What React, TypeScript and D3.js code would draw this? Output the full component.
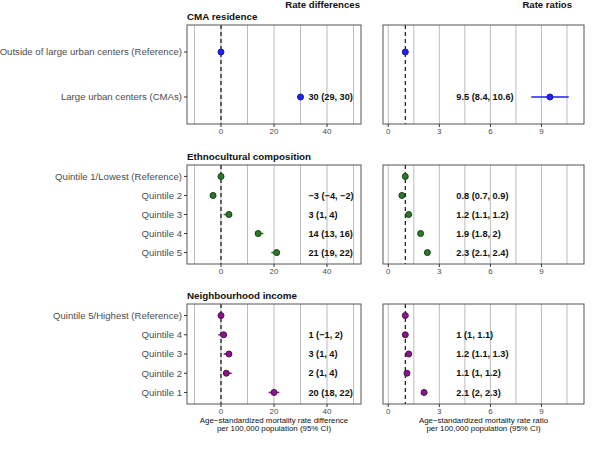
import React from "react";
import * as d3 from "d3";

// ---- Data ----
const groupTitles = ["CMA residence", "Ethnocultural composition", "Neighbourhood income"];

const cmaLabels = ["Outside of large urban centers (Reference)", "Large urban centers (CMAs)"];
const cmaDiff = [0, 30];
const cmaDiffLo = [NaN, 29];
const cmaDiffHi = [NaN, 30];
const cmaRatio = [1, 9.5];
const cmaRatioLo = [NaN, 8.4];
const cmaRatioHi = [NaN, 10.6];

const ethLabels = ["Quintile 1/Lowest (Reference)", "Quintile 2", "Quintile 3", "Quintile 4", "Quintile 5"];
const ethDiff = [0, -3, 3, 14, 21];
const ethDiffLo = [NaN, -4, 1, 13, 19];
const ethDiffHi = [NaN, -2, 4, 16, 22];
const ethRatio = [1, 0.8, 1.2, 1.9, 2.3];
const ethRatioLo = [NaN, 0.7, 1.1, 1.8, 2.1];
const ethRatioHi = [NaN, 0.9, 1.2, 2, 2.4];

const incLabels = ["Quintile 5/Highest (Reference)", "Quintile 4", "Quintile 3", "Quintile 2", "Quintile 1"];
const incDiff = [0, 1, 3, 2, 20];
const incDiffLo = [NaN, -1, 1, 1, 18];
const incDiffHi = [NaN, 2, 4, 4, 22];
const incRatio = [1, 1, 1.2, 1.1, 2.1];
const incRatioLo = [NaN, 1, 1.1, 1, 2];
const incRatioHi = [NaN, 1.1, 1.3, 1.2, 2.3];

const diffTicks = [0, 20, 40];
const diffMinor = [-10, 10, 30, 50];
const ratioTicks = [0, 3, 6, 9];
const ratioMinor = [1.5, 4.5, 7.5, 10.5];

const groupFill = ["#1f1fff", "#2a7a2a", "#8e128e"];
const groupStroke = ["#1a1a8a", "#173d17", "#4a154a"];

// ---- Layout ----
const W = 600, H = 457;
const leftX: [number, number] = [187, 361];
const rightX: [number, number] = [383, 584];
const panelY: [number, number][] = [[25, 124], [165, 264], [304, 404]];

const xDiff = d3.scaleLinear().domain([-12.83, 52.83]).range(leftX);
const xRatio = d3.scaleLinear().domain([-0.31, 11.5]).range(rightX);

const fmt = (v: number) => {
  const s = d3.format("~g")(v);
  return s.replace("-", "\u2212");
};
const lbl = (v: number, lo: number, hi: number) => `${fmt(v)} (${fmt(lo)}, ${fmt(hi)})`;

const groups = [
  { labels: cmaLabels, d: cmaDiff, dl: cmaDiffLo, dh: cmaDiffHi, r: cmaRatio, rl: cmaRatioLo, rh: cmaRatioHi },
  { labels: ethLabels, d: ethDiff, dl: ethDiffLo, dh: ethDiffHi, r: ethRatio, rl: ethRatioLo, rh: ethRatioHi },
  { labels: incLabels, d: incDiff, dl: incDiffLo, dh: incDiffHi, r: incRatio, rl: incRatioLo, rh: incRatioHi },
];

const FONT = "'Liberation Sans', Arial, sans-serif";

function Panel({ x, ticks, minor, refV, y0, y1, ys, labels, vals, lo, hi, gi, labelX, showTicks, title }: any) {
  const [xa, xb] = x.range();
  return (
    <g>
      {[...minor, ...ticks].map((t: number) => (
        <line key={"g" + t} x1={x(t)} x2={x(t)} y1={y0} y2={y1} stroke="#bcbcbc" strokeWidth={1} />
      ))}
      <line x1={x(refV)} x2={x(refV)} y1={y0} y2={y1} stroke="#000" strokeWidth={1.1} strokeDasharray="4,3" />
      {labels.map((l: string, i: number) => {
        const cy = ys(l);
        return (
          <g key={l}>
            {!isNaN(lo[i]) && (
              <line x1={x(lo[i])} x2={x(hi[i])} y1={cy} y2={cy} stroke={groupFill[gi]} strokeWidth={1.6} />
            )}
            <circle cx={x(vals[i])} cy={cy} r={3} fill={groupFill[gi]} stroke={groupStroke[gi]} strokeWidth={1} />
            {!isNaN(lo[i]) && (
              <text x={labelX} y={cy} dy="0.35em" fontSize={9.2} fontWeight="bold" fill="#111">
                {lbl(vals[i], lo[i], hi[i])}
              </text>
            )}
          </g>
        );
      })}
      <rect x={xa} y={y0} width={xb - xa} height={y1 - y0} fill="none" stroke="#555" strokeWidth={1} />
      {ticks.map((t: number) => (
        <g key={"t" + t}>
          <line x1={x(t)} x2={x(t)} y1={y1} y2={y1 + 3} stroke="#333" />
          <text x={x(t)} y={y1 + 9.8} textAnchor="middle" fontSize={8} fill="#4d4d4d">{fmt(t)}</text>
        </g>
      ))}
      {title && title.map((t: string, k: number) => (
        <text key={k} x={(xa + xb) / 2} y={y1 + 18.5 + k * 8.8} textAnchor="middle" fontSize={7.9} fill="#111">{t}</text>
      ))}
      {showTicks && labels.map((l: string) => (
        <g key={"y" + l}>
          <line x1={xa - 3} x2={xa} y1={ys(l)} y2={ys(l)} stroke="#333" />
          <text x={xa - 5} y={ys(l)} dy="0.35em" textAnchor="end" fontSize={9.6} fill="#4d4d4d">{l}</text>
        </g>
      ))}
    </g>
  );
}

export default function App() {
  return (
    <svg width={W} height={H} style={{ position: "absolute", left: 0, top: 0, background: "#fff" }} fontFamily={FONT}>
      <rect width={W} height={H} fill="#fff" />
      <text x={360} y={8} textAnchor="end" fontSize={9.6} fontWeight="bold" fill="#111">Rate differences</text>
      <text x={572} y={8} textAnchor="end" fontSize={9.6} fontWeight="bold" fill="#111">Rate ratios</text>
      {groups.map((g, gi) => {
        const [y0, y1] = panelY[gi];
        const ys = d3.scalePoint<string>().domain(g.labels).range([y0, y1]).padding(0.6);
        const last = gi === groups.length - 1;
        return (
          <g key={gi}>
            <text x={187} y={y0 - 5} fontSize={9.8} fontWeight="bold" fill="#111">{groupTitles[gi]}</text>
            <Panel x={xDiff} ticks={diffTicks} minor={diffMinor} refV={0} y0={y0} y1={y1} ys={ys}
              labels={g.labels} vals={g.d} lo={g.dl} hi={g.dh} gi={gi} labelX={xDiff(33)} showTicks={true}
              title={last ? ["Age\u2212standardized mortality rate difference", "per 100,000 population (95% CI)"] : null} />
            <Panel x={xRatio} ticks={ratioTicks} minor={ratioMinor} refV={1} y0={y0} y1={y1} ys={ys}
              labels={g.labels} vals={g.r} lo={g.rl} hi={g.rh} gi={gi} labelX={xRatio(4)} showTicks={false}
              title={last ? ["Age\u2212standardized mortality rate ratio", "per 100,000 population (95% CI)"] : null} />
          </g>
        );
      })}
    </svg>
  );
}
